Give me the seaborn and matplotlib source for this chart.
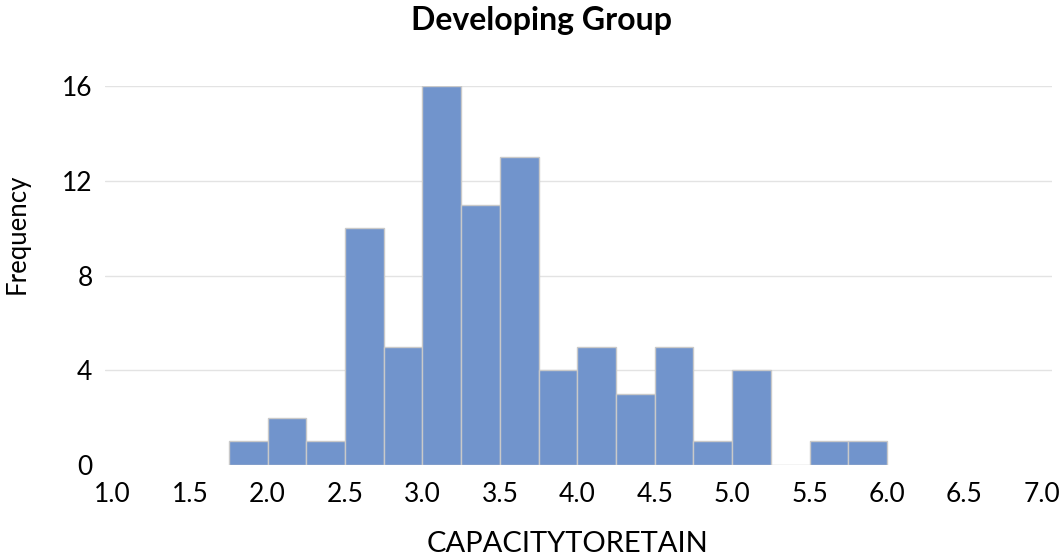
import numpy as np
import pandas as pd
import matplotlib
matplotlib.use("Agg")
import matplotlib.pyplot as plt
import seaborn as sns

# Data (bin width 0.25)
bin_starts = [1.75, 2.0, 2.25, 2.5, 2.75, 3.0, 3.25, 3.5, 3.75, 4.0, 4.25,
              4.5, 4.75, 5.0, 5.25, 5.5, 5.75]
counts = [1, 2, 1, 10, 5, 16, 11, 13, 4, 5, 3, 5, 1, 4, 0, 1, 1]
x_ticks = [1.0, 1.5, 2.0, 2.5, 3.0, 3.5, 4.0, 4.5, 5.0, 5.5, 6.0, 6.5, 7.0]
y_ticks = [0, 4, 8, 12, 16]
title = "Developing Group"
x_label = "CAPACITYTORETAIN"
y_label = "Frequency"

width = 0.25
df = pd.DataFrame({"value": np.array(bin_starts) + width / 2, "count": counts})
edges = list(bin_starts) + [bin_starts[-1] + width]

sns.set_theme(style="white")
plt.rcParams["font.family"] = ["Lato", "DejaVu Sans"]
plt.rcParams["text.color"] = "black"

fig = plt.figure(figsize=(10.64, 5.56), dpi=100)
ax = fig.add_axes([0.0987, 0.1637, 0.89, 0.6813])

ax.yaxis.grid(True, color="#E3E3E3", linewidth=1.0, zorder=0)
ax.set_axisbelow(True)

sns.histplot(data=df, x="value", weights="count", bins=edges, ax=ax,
             color="#7194CC", alpha=1, edgecolor="#C9C9C9", linewidth=1.0,
             zorder=3)

ax.set_xlim(0.95, 7.065)
ax.set_ylim(0, 16)
ax.set_xticks(x_ticks)
ax.set_xticklabels([f"{t:.1f}" for t in x_ticks], fontsize=19)
ax.set_yticks(y_ticks)
ax.set_yticklabels([str(t) for t in y_ticks], fontsize=19)
ax.get_ygridlines()[0].set_visible(False)
ax.tick_params(axis="both", length=0, colors="black")
ax.tick_params(axis="x", pad=12)
ax.tick_params(axis="y", pad=9)
for s in ax.spines.values():
    s.set_visible(False)

ax.set_xlabel(x_label, fontsize=21, color="black")
ax.xaxis.set_label_coords(0.488, -0.175)
ax.set_ylabel(y_label, fontsize=18.5, color="black")
ax.yaxis.set_label_coords(-0.08, 0.609)
fig.suptitle(title, fontsize=23, fontweight="bold", x=0.509, y=0.99,
             color="black")

fig.savefig("out.png", dpi=100)
